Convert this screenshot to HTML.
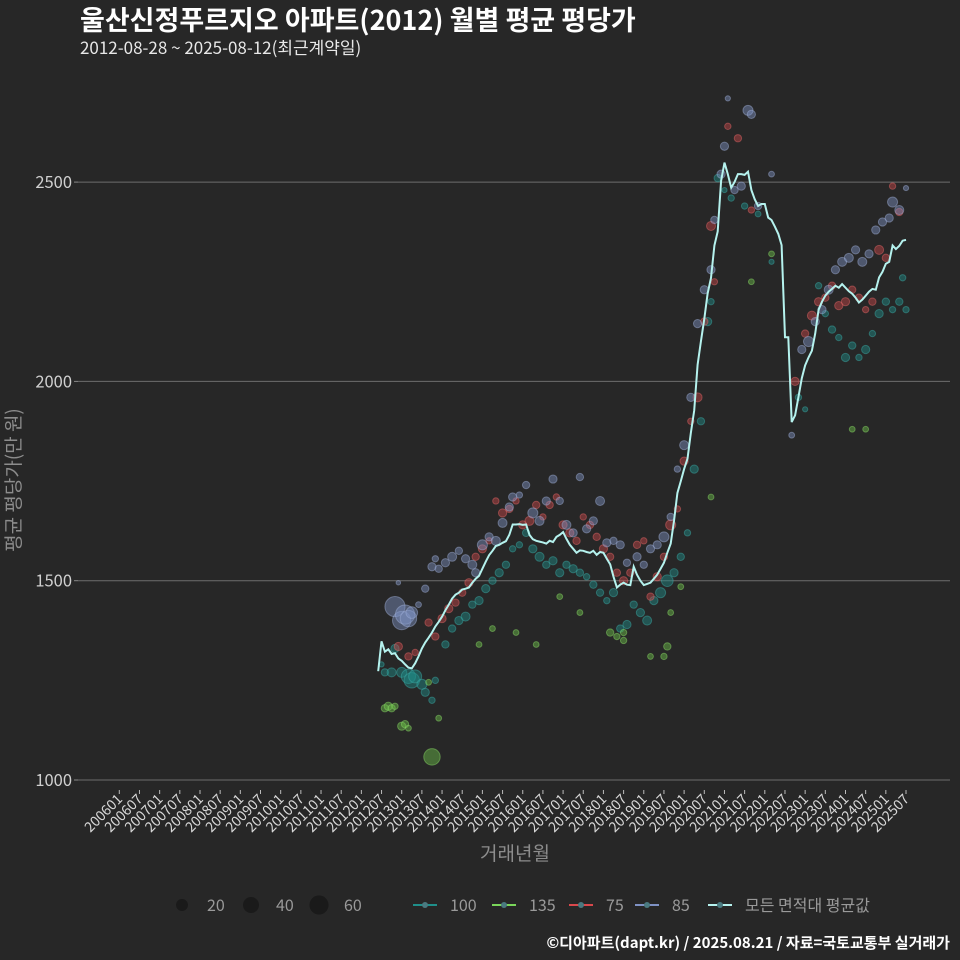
<!DOCTYPE html>
<html><head><meta charset="utf-8">
<style>
html,body{margin:0;padding:0;background:#272727;}
svg{display:block;font-family:"Noto Sans CJK KR","Liberation Sans",sans-serif;}
</style></head>
<body>
<svg id="chart" width="960" height="960" viewBox="0 0 960 960">
<rect width="960" height="960" fill="#272727"/>
<text x="80" y="30" fill="#ffffff" font-size="27" font-weight="bold">울산신정푸르지오 아파트(2012) 월별 평균 평당가</text>
<text x="80" y="54" fill="#e8e8e8" font-size="17">2012-08-28 ~ 2025-08-12(최근계약일)</text>
<g id="grid"></g>
<g id="xaxis"></g>
<g id="points"></g>
<path id="meanline" fill="none" stroke="#b5f2ee" stroke-width="2"/>
<text x="515" y="860" fill="#8c8c8c" font-size="19" text-anchor="middle">거래년월</text>
<text transform="translate(20,480) rotate(-90)" fill="#8c8c8c" font-size="19" text-anchor="middle">평균 평당가(만 원)</text>
<g id="legend"></g>
<text x="950" y="948" fill="#ffffff" font-size="15" font-weight="bold" text-anchor="end">©디아파트(dapt.kr) / 2025.08.21 / 자료=국토교통부 실거래가</text>
</svg>
<script>
// months indexed from 2006-01 (=0)
const yTicks=[1000,1500,2000,2500];
const meanStart=77;
const meanValues=[1273,1348,1322,1328,1316,1318,1305,1299,1290,1282,1280,1293,1310,1330,1345,1357,1370,1385,1397,1410,1426,1440,1455,1465,1470,1478,1480,1483,1495,1505,1512,1530,1548,1564,1575,1587,1590,1595,1599,1615,1641,1641,1642,1640,1641,1615,1604,1600,1598,1596,1593,1600,1597,1610,1615,1622,1605,1590,1580,1570,1576,1575,1572,1570,1575,1565,1572,1570,1555,1541,1510,1483,1490,1495,1490,1489,1535,1515,1500,1489,1492,1495,1505,1515,1530,1545,1570,1593,1650,1720,1750,1780,1806,1870,1927,2042,2100,2157,2220,2260,2341,2376,2503,2549,2520,2486,2500,2520,2520,2518,2526,2480,2457,2440,2445,2445,2411,2405,2388,2370,2342,2111,2111,1898,1915,1960,2008,2040,2060,2077,2120,2180,2200,2215,2225,2232,2240,2235,2244,2235,2226,2220,2210,2198,2205,2215,2225,2232,2230,2261,2275,2295,2300,2341,2332,2340,2353,2355];
const s85=[[82,1435,60],[84,1400,50],[85,1415,55],[86,1405,40],[87,1420,20],[83,1495,3],[89,1440,5],[91,1480,8],[93,1535,10],[94,1555,6],[95,1530,8],[97,1545,10],[99,1560,12],[101,1575,8],[103,1555,10],[105,1540,12],[106,1520,10],[108,1590,15],[110,1610,10],[112,1600,12],[114,1645,12],[116,1685,10],[117,1710,10],[119,1715,6],[121,1740,8],[123,1670,15],[125,1650,12],[127,1700,10],[129,1755,10],[131,1700,8],[133,1640,12],[135,1620,10],[137,1760,8],[139,1630,10],[141,1650,10],[143,1700,12],[145,1595,10],[147,1600,8],[149,1590,10],[151,1545,8],[154,1560,10],[156,1540,8],[158,1580,10],[160,1590,10],[162,1610,15],[164,1660,8],[166,1780,6],[168,1840,12],[170,1960,10],[172,2145,10],[174,2230,10],[176,2280,10],[177,2405,8],[179,2520,10],[180,2590,10],[183,2480,8],[185,2490,10],[187,2680,15],[188,2670,10],[190,2440,8],[194,2520,5],[200,1865,5],[203,2080,10],[205,2100,15],[207,2150,10],[209,2180,10],[211,2230,12],[213,2280,10],[215,2300,12],[217,2310,12],[219,2330,10],[221,2300,12],[223,2320,10],[225,2380,10],[227,2400,10],[229,2410,10],[230,2450,15],[232,2430,12],[234,2485,4],[181,2710,4]];
const s75=[[83,1335,10],[86,1310,8],[88,1320,6],[92,1395,8],[94,1360,8],[96,1405,10],[98,1430,10],[100,1445,8],[102,1470,8],[104,1495,10],[106,1560,8],[108,1580,10],[110,1600,6],[112,1700,6],[114,1670,10],[116,1680,8],[118,1700,6],[120,1640,10],[122,1650,12],[124,1690,8],[126,1660,6],[128,1690,8],[130,1710,6],[132,1640,10],[134,1620,10],[136,1600,8],[138,1660,6],[140,1640,8],[142,1610,8],[144,1580,10],[146,1560,8],[148,1520,8],[150,1500,10],[152,1520,8],[154,1590,8],[156,1600,6],[158,1460,8],[160,1510,10],[162,1560,8],[164,1640,15],[166,1680,6],[168,1800,10],[170,1900,6],[172,1960,12],[174,2150,8],[176,2390,12],[177,2250,6],[181,2640,6],[184,2610,8],[188,2430,6],[201,2000,10],[204,2120,8],[206,2165,12],[208,2200,10],[210,2210,8],[212,2240,8],[214,2190,10],[216,2200,10],[218,2230,8],[220,2210,8],[222,2180,6],[224,2200,8],[226,2330,12],[228,2310,8],[230,2490,6],[232,2425,8]];
const s100=[[78,1290,4],[79,1270,8],[81,1270,12],[82,1330,10],[84,1270,15],[86,1260,30],[87,1250,35],[88,1260,25],[90,1240,15],[91,1220,10],[93,1200,6],[94,1250,6],[97,1340,8],[99,1380,8],[101,1400,10],[103,1410,12],[105,1440,8],[107,1450,10],[109,1480,10],[111,1500,8],[113,1520,10],[115,1540,8],[117,1580,6],[119,1590,6],[121,1620,8],[123,1580,10],[125,1560,12],[127,1540,8],[129,1550,10],[131,1520,10],[133,1540,8],[135,1530,10],[137,1520,8],[139,1510,6],[141,1490,8],[143,1470,8],[145,1450,6],[147,1470,10],[149,1380,8],[151,1390,10],[153,1440,8],[155,1420,10],[157,1400,12],[159,1450,10],[161,1470,15],[163,1500,20],[165,1520,10],[167,1560,8],[169,1620,6],[171,1780,10],[173,1900,8],[175,2150,10],[176,2200,6],[178,2510,8],[180,2480,4],[182,2460,6],[186,2440,6],[190,2420,5],[194,2300,4],[202,1960,6],[204,1930,4],[208,2240,6],[210,2170,6],[212,2130,8],[214,2110,6],[216,2060,10],[218,2090,8],[220,2060,6],[222,2080,10],[224,2120,6],[226,2170,10],[228,2200,8],[230,2180,6],[232,2200,8],[233,2260,6],[234,2180,6]];
const s135=[[79,1180,8],[80,1185,10],[81,1180,8],[82,1185,6],[84,1135,10],[85,1140,8],[86,1130,5],[93,1058,40],[95,1155,5],[92,1245,5],[107,1340,5],[111,1380,5],[118,1370,5],[124,1340,5],[131,1460,5],[137,1420,5],[146,1370,8],[148,1360,6],[150,1370,6],[150,1350,6],[158,1310,5],[162,1310,6],[163,1335,8],[164,1420,5],[167,1485,5],[176,1710,5],[188,2250,5],[194,2320,5],[218,1880,5],[222,1880,5]];
const legendSizes=[20,40,60];
const legendSeries=["100","135","75","85","모든 면적대 평균값"];

const NS="http://www.w3.org/2000/svg";
const X0=119.3, DX=3.362, Y1000=780, PX=199.3/500;
function xs(m){return X0+m*DX;}
function ys(v){return Y1000-(v-1000)*PX;}
function rs(n){return 1.3*Math.sqrt(n);}
function el(t,a,p){const e=document.createElementNS(NS,t);for(const k in a)e.setAttribute(k,a[k]);p.appendChild(e);return e;}

const grid=document.getElementById('grid');
yTicks.forEach(v=>{
  const g=el('line',{x1:78,x2:950,y1:ys(v),y2:ys(v),stroke:'#6e6e6e','stroke-width':1},grid);
  
  
  const tk=el('line',{x1:74,x2:78,y1:ys(v),y2:ys(v),stroke:'#888'},grid);
  
  
  const t=el('text',{x:72,y:ys(v)+6,fill:'#d0d0d0','font-size':16.5,'text-anchor':'end'},grid);
  t.textContent=v;
  
  
});
const xa=document.getElementById('xaxis');
for(let i=0;i<40;i++){
  const m=i*6, yr=2006+Math.floor(m/12), mo=(m%12)+1;
  const lab=yr+(mo<10?'0':'')+mo;
  const x=xs(m);
  const tk=el('line',{x1:x,x2:x,y1:790,y2:794,stroke:'#bbb'},xa);
  
  
  const t=el('text',{x:x+4,y:800,fill:'#d8d8d8','font-size':14,'text-anchor':'end',transform:`rotate(-45 ${x+4} 800)`},xa);
  t.textContent=lab;
  
  
}
const pts=document.getElementById('points');
const series=[[s100,'#1f8f8a','#3fb0aa'],[s135,'#6cc04a','#8fe06a'],[s75,'#c9474a','#e86a6a'],[s85,'#7f92c4','#a5b4dc']];
series.forEach(([arr,f,s])=>{
  arr.forEach(d=>{
    const c=el('circle',{cx:xs(d[0]),cy:ys(d[1]),r:rs(d[2]),fill:f,'fill-opacity':0.45,stroke:s,'stroke-opacity':0.45,'stroke-width':1},pts);
    
    
  });
});
let dd='';
meanValues.forEach((v,i)=>{dd+=(i?'L':'M')+xs(meanStart+i).toFixed(1)+' '+ys(v).toFixed(1);});
document.getElementById('meanline').setAttribute('d',dd);

const lg=document.getElementById('legend');
const lx=[182,251,319];
legendSizes.forEach((n,i)=>{
  const c=el('circle',{cx:lx[i],cy:905,r:rs(n)*0.85+1,fill:'#1a1a1a'},lg);
  
  
  const t=el('text',{x:lx[i]+25,y:911,fill:'#9a9a9a','font-size':16},lg);
  t.textContent=n;
  
  
});
const lcol=['#1f8f8a','#7ad65a','#d9484c','#7f92c4','#b5f2ee'];
const lsx=[413,492,569,635,708];
legendSeries.forEach((s,i)=>{
  const g=el('g',{},lg);
  
  
  el('line',{x1:lsx[i],x2:lsx[i]+24,y1:905,y2:905,stroke:lcol[i],'stroke-width':2},g);
  el('circle',{cx:lsx[i]+12,cy:905,r:3,fill:'#4a7a80'},g);
  const t=el('text',{x:lsx[i]+37,y:911,fill:'#9a9a9a','font-size':16},g);
  t.textContent=s;
});
</script>
</body></html>
